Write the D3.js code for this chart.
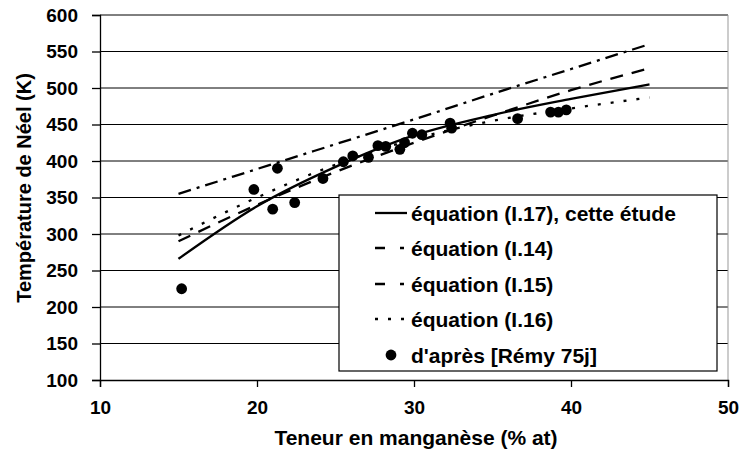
<!DOCTYPE html>
<html><head><meta charset="utf-8">
<script src="https://cdn.jsdelivr.net/npm/d3@7"></script>
<style>
body{margin:0;background:#fff;}
text{font-family:"Liberation Sans",Arial,sans-serif;font-weight:bold;fill:#000;}
</style></head>
<body><svg id="c" width="744" height="454"></svg>
<script>
// Data
const xEq = [15, 20, 25, 30, 35, 40, 45];
const eq17 = [266, 338, 392, 435, 463, 485, 505];
const eq14 = [355, 389, 423, 457, 492, 526, 560];
const eq15 = [290, 340, 385, 425, 462, 497, 527];
const eq16 = [298, 350, 395, 430, 455, 472, 487];
const remyX = [15.2, 19.8, 21.0, 21.3, 22.4, 24.2, 25.5, 26.1, 27.1, 27.7, 28.2, 29.1, 29.4, 29.9, 30.5, 32.3, 32.4, 36.6, 38.7, 39.2, 39.7];
const remyY = [225, 361, 334, 390, 343, 376, 399, 407, 405, 421, 420, 416, 425, 438, 436, 452, 445, 458, 467, 467, 470];
const xTicks = [10, 20, 30, 40, 50];
const yTicks = [100, 150, 200, 250, 300, 350, 400, 450, 500, 550, 600];
const legendLabels = ["équation (I.17), cette étude", "équation  (I.14)", "équation (I.15)", "équation (I.16)", "d'après [Rémy 75j]"];

const svg = d3.select("#c");
const m = {l: 100, r: 16, t: 15, b: 74};
const W = 744, H = 454;
const x = d3.scaleLinear().domain([10, 50]).range([m.l, W - m.r]);
const y = d3.scaleLinear().domain([100, 600]).range([H - m.b, m.t]);

// gridlines
svg.append("g").selectAll("line").data(yTicks.filter(d => d > 100)).join("line")
  .attr("x1", m.l).attr("x2", W - m.r).attr("y1", d => y(d)).attr("y2", d => y(d))
  .attr("stroke", "#000").attr("stroke-width", 1);
// right border
svg.append("line").attr("x1", W - m.r).attr("x2", W - m.r).attr("y1", m.t).attr("y2", H - m.b)
  .attr("stroke", "#999").attr("stroke-width", 1);

// axes
const yAxis = svg.append("g").attr("transform", `translate(${m.l},0)`)
  .call(d3.axisLeft(y).tickValues(yTicks).tickSize(8).tickPadding(14));
const xAxis = svg.append("g").attr("transform", `translate(0,${H - m.b})`)
  .call(d3.axisBottom(x).tickValues(xTicks).tickSize(7).tickPadding(14));
[yAxis, xAxis].forEach(a => {
  a.select(".domain").attr("stroke", "#000").attr("stroke-width", 1.3);
  a.selectAll(".tick line").attr("stroke", "#000").attr("stroke-width", 1.3);
  a.selectAll(".tick text").style("font-size", "19px").style("font-family", "Liberation Sans, Arial, sans-serif").style("font-weight", "bold").attr("fill", "#000");
});

// lines
const line = d3.line().curve(d3.curveMonotoneX).x(d => x(d[0])).y(d => y(d[1]));
const series = [
  {v: eq17, dash: null, lgDash: null},
  {v: eq14, dash: "13,6,3,6", lgDash: "10,15,4,40"},
  {v: eq15, dash: "13,9", lgDash: "10,15,4,40"},
  {v: eq16, dash: "3,10", lgDash: "3,10"}
];
series.forEach(s => {
  svg.append("path").datum(xEq.map((xv, i) => [xv, s.v[i]]))
    .attr("d", line).attr("fill", "none").attr("stroke", "#000").attr("stroke-width", 2.3)
    .attr("stroke-dasharray", s.dash);
});

// points
svg.append("g").selectAll("circle").data(remyX.map((xv, i) => [xv, remyY[i]])).join("circle")
  .attr("cx", d => x(d[0])).attr("cy", d => y(d[1])).attr("r", 5.4).attr("fill", "#000");

// legend
const lg = svg.append("g");
lg.append("rect").attr("x", 339).attr("y", 195).attr("width", 378).attr("height", 176)
  .attr("fill", "#fff").attr("stroke", "#000").attr("stroke-width", 1.2);
const rowY = [213, 248, 284, 319, 355];
legendLabels.forEach((lab, i) => {
  if (i < 4) {
    lg.append("line").attr("x1", 375).attr("x2", i === 0 ? 407 : 405).attr("y1", rowY[i]).attr("y2", rowY[i])
      .attr("stroke", "#000").attr("stroke-width", 2.3).attr("stroke-dasharray", series[i].lgDash);
  } else {
    lg.append("circle").attr("cx", 391).attr("cy", rowY[i]).attr("r", 5.4).attr("fill", "#000");
  }
  lg.append("text").attr("x", 411).attr("y", rowY[i]).attr("dy", "0.36em")
    .style("font-size", "21px").text(lab);
});

// titles
svg.append("text").attr("x", 416).attr("y", 445).attr("text-anchor", "middle")
  .style("font-size", "21px").text("Teneur en manganèse (% at)");
svg.append("text").attr("transform", "translate(31,188) rotate(-90)").attr("text-anchor", "middle")
  .style("font-size", "20px").text("Température de Néel (K)");
</script></body></html>
